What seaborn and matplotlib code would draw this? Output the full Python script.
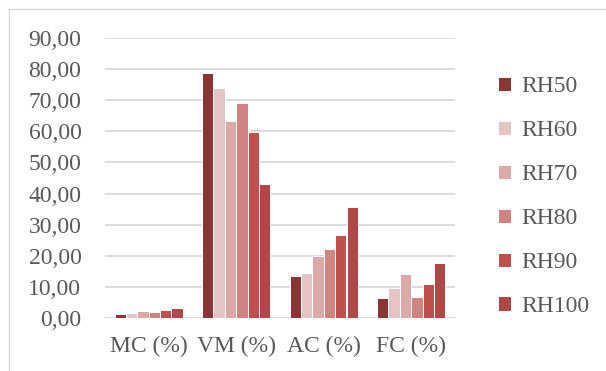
import matplotlib
matplotlib.use("Agg")
import matplotlib.pyplot as plt
import matplotlib.lines as mlines
import seaborn as sns
import pandas as pd

# Proximate analysis by relative humidity
categories = ["MC (%)", "VM (%)", "AC (%)", "FC (%)"]
series = ["RH50", "RH60", "RH70", "RH80", "RH90", "RH100"]
rh50 = [1.4, 78.6, 13.4, 6.4]
rh60 = [1.5, 73.8, 14.6, 9.8]
rh70 = [2.2, 63.3, 19.9, 14.0]
rh80 = [1.9, 69.1, 22.2, 6.6]
rh90 = [2.5, 59.8, 26.6, 11.0]
rh100 = [3.2, 43.0, 35.8, 17.8]
yticks = [0, 10, 20, 30, 40, 50, 60, 70, 80, 90]

colors = ["#8B3536", "#E4C4C5", "#DBA9AA", "#CE8483", "#C0504D", "#B04847"]
text_color = "#595959"
font = "Liberation Serif"
fs = 17

rows = []
for name, vals in zip(series, [rh50, rh60, rh70, rh80, rh90, rh100]):
    for cat, v in zip(categories, vals):
        rows.append({"param": cat, "series": name, "value": v})
df = pd.DataFrame(rows)

sns.set_theme(style="white")
plt.rcParams["font.family"] = [font, "DejaVu Serif"]

W, H = 606, 371
fig = plt.figure(figsize=(W / 100, H / 100), dpi=100)
ax = fig.add_axes([105 / W, (H - 318) / H, 350 / W, 280 / H])

sns.barplot(data=df, x="param", y="value", hue="series", order=categories,
            hue_order=series, palette=colors, saturation=1, width=0.78, ax=ax,
            edgecolor="white", linewidth=0.7, errorbar=None, legend=True)

ax.set_ylim(0, 90)
ax.set_yticks(yticks)
ax.set_yticklabels([f"{t:.2f}".replace(".", ",") for t in yticks])
ax.yaxis.grid(True, color="#D9D9D9", linewidth=1.3)
ax.set_axisbelow(True)
for s in ax.spines.values():
    s.set_visible(False)
ax.axhline(0, color="#D9D9D9", linewidth=1.3, zorder=0.5)
ax.set_xlabel("")
ax.set_ylabel("")
ax.tick_params(axis="y", length=0, pad=17, labelsize=fs, labelcolor=text_color)
ax.tick_params(axis="x", length=0, pad=13, labelsize=fs, labelcolor=text_color)

handles, labels = ax.get_legend_handles_labels()
ax.get_legend().remove()
leg = fig.legend(handles, labels, loc="upper left",
                 bbox_to_anchor=(489 / W, 1 - 67 / H), frameon=False,
                 fontsize=fs, labelcolor=text_color, handlelength=0.55,
                 handleheight=0.55, handletextpad=0.4, labelspacing=0.97,
                 borderaxespad=0)

# Outer frame lines along the top and left edges
fig.add_artist(mlines.Line2D([8 / W, 1], [1 - 8.5 / H, 1 - 8.5 / H],
                             transform=fig.transFigure, color="#D9D9D9", linewidth=1))
fig.add_artist(mlines.Line2D([8.5 / W, 8.5 / W], [0, 1 - 8.5 / H],
                             transform=fig.transFigure, color="#D9D9D9", linewidth=1))

fig.savefig("out.png", dpi=100)
